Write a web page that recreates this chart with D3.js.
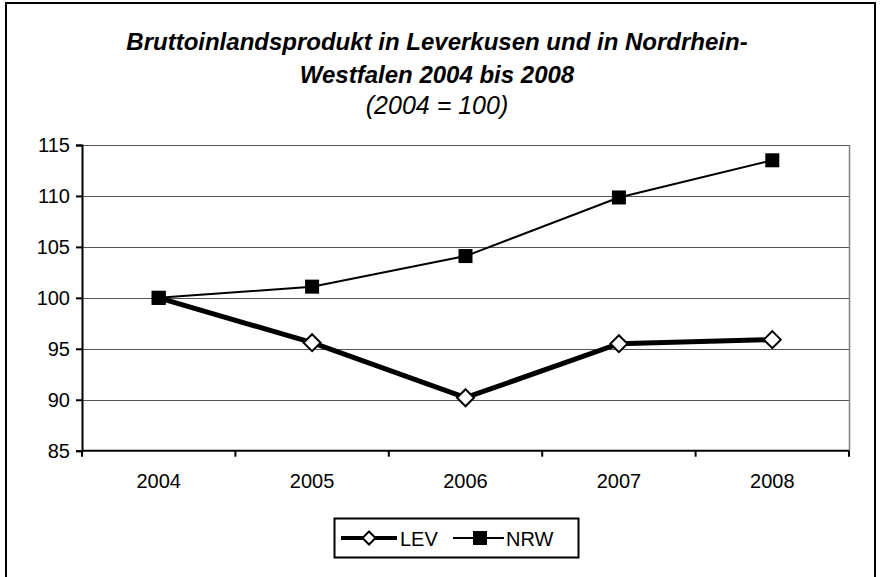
<!DOCTYPE html>
<html><head><meta charset="utf-8">
<script src="https://cdn.jsdelivr.net/npm/d3@7"></script>
<style>body{margin:0;background:#fff}svg{display:block;font-family:"Liberation Sans",Arial,sans-serif}</style>
</head><body><svg id="c" width="883" height="577"></svg>
<script>
const years = ["2004","2005","2006","2007","2008"];
const lev = [100, 95.6, 90.2, 95.5, 95.9];
const nrw = [100, 101.1, 104.1, 109.85, 113.5];
const yTicks = [85, 90, 95, 100, 105, 110, 115];
const titleLines = ["Bruttoinlandsprodukt in Leverkusen und in Nordrhein-", "Westfalen 2004 bis 2008"];
const subtitle = "(2004 = 100)";

const svg = d3.select("#c");
const L = 82, R = 849, T = 145, B = 450.7;
const x = d3.scaleBand().domain(years).range([L, R]).padding(0);
const y = d3.scaleLinear().domain([85, 115]).range([B, T]);

// outer border
svg.append("rect").attr("x", 6).attr("y", 3).attr("width", 869).attr("height", 590)
  .attr("fill", "none").attr("stroke", "#000").attr("stroke-width", 2);

// titles
const cx = 437;
svg.append("text").attr("x", cx).attr("y", 50).attr("text-anchor", "middle")
  .attr("font-size", 24).attr("font-weight", "bold").attr("font-style", "italic").text(titleLines[0]);
svg.append("text").attr("x", cx).attr("y", 83).attr("text-anchor", "middle")
  .attr("font-size", 24).attr("font-weight", "bold").attr("font-style", "italic").text(titleLines[1]);
svg.append("text").attr("x", cx).attr("y", 114).attr("text-anchor", "middle")
  .attr("font-size", 25).attr("font-style", "italic").text(subtitle);

// gridlines
svg.append("g").selectAll("line").data(yTicks.filter(d => d > 85)).join("line")
  .attr("x1", L).attr("x2", R).attr("y1", d => Math.round(y(d)) + 0.5).attr("y2", d => Math.round(y(d)) + 0.5)
  .attr("stroke", "#555").attr("stroke-width", 1);
// right plot border
svg.append("line").attr("x1", R + 0.5).attr("x2", R + 0.5).attr("y1", T).attr("y2", B)
  .attr("stroke", "#808080").attr("stroke-width", 1.5);

// y axis
const yAxis = d3.axisLeft(y).tickValues(yTicks).tickSize(6).tickPadding(6);
const gy = svg.append("g").attr("transform", `translate(${L},0)`).call(yAxis);
gy.select(".domain").attr("stroke-width", 2);
gy.selectAll(".tick line").attr("stroke-width", 2);
gy.selectAll("text").attr("font-size", 20).attr("font-family", "Liberation Sans, Arial, sans-serif").attr("fill", "#000");

// x axis
const gx = svg.append("g").attr("transform", `translate(0,${B})`)
  .call(d3.axisBottom(x).tickSize(0).tickPadding(0).tickFormat(""));
gx.select(".domain").attr("stroke-width", 2).attr("d", `M${L},0H${R}`);
gx.selectAll(".tick").remove();
const bounds = years.map(d => x(d)).concat([R]);
gx.selectAll("line.bt").data(bounds).join("line").attr("class", "bt")
  .attr("x1", d => d).attr("x2", d => d).attr("y1", 0).attr("y2", 6).attr("stroke", "#000").attr("stroke-width", 2);
gx.selectAll("text.yl").data(years).join("text").attr("class", "yl")
  .attr("x", d => x(d) + x.bandwidth() / 2).attr("y", 37).attr("text-anchor", "middle")
  .attr("font-size", 20).attr("font-family", "Liberation Sans, Arial, sans-serif").attr("fill", "#000").text(d => d);

const cxp = d => x(d) + x.bandwidth() / 2;
const line = d3.line().x((d, i) => cxp(years[i])).y(d => y(d));

// NRW
svg.append("path").datum(nrw).attr("d", line).attr("fill", "none").attr("stroke", "#000").attr("stroke-width", 2);
// LEV
svg.append("path").datum(lev).attr("d", line).attr("fill", "none").attr("stroke", "#000").attr("stroke-width", 5);

const sq = 14, dm = 8.5;
svg.append("g").selectAll("rect").data(nrw).join("rect")
  .attr("x", (d, i) => cxp(years[i]) - sq / 2).attr("y", d => y(d) - sq / 2)
  .attr("width", sq).attr("height", sq).attr("fill", "#000");
const diamond = (cx, cy, r) => `M${cx},${cy - r}L${cx + r},${cy}L${cx},${cy + r}L${cx - r},${cy}Z`;
svg.append("g").selectAll("path").data(lev).join("path")
  .attr("d", (d, i) => i === 0 ? null : diamond(cxp(years[i]), y(d), dm))
  .attr("fill", "#fff").attr("stroke", "#000").attr("stroke-width", 2);
svg.append("rect").attr("x", cxp(years[0]) - sq / 2).attr("y", y(nrw[0]) - sq / 2)
  .attr("width", sq).attr("height", sq).attr("fill", "#000");

// legend
const lg = svg.append("g");
lg.append("rect").attr("x", 334.5).attr("y", 518.5).attr("width", 244).attr("height", 39)
  .attr("fill", "#fff").attr("stroke", "#000").attr("stroke-width", 2);
const ly = 538;
lg.append("line").attr("x1", 341).attr("x2", 397).attr("y1", ly).attr("y2", ly).attr("stroke", "#000").attr("stroke-width", 4);
lg.append("path").attr("d", diamond(369, ly, 6.5)).attr("fill", "#fff").attr("stroke", "#000").attr("stroke-width", 2);
lg.append("text").attr("x", 400).attr("y", ly + 7.5).attr("font-size", 20).text("LEV");
lg.append("line").attr("x1", 453).attr("x2", 504).attr("y1", ly).attr("y2", ly).attr("stroke", "#000").attr("stroke-width", 2);
lg.append("rect").attr("x", 473).attr("y", ly - 7).attr("width", 14).attr("height", 14).attr("fill", "#000");
lg.append("text").attr("x", 506).attr("y", ly + 7.5).attr("font-size", 20).text("NRW");
</script></body></html>
